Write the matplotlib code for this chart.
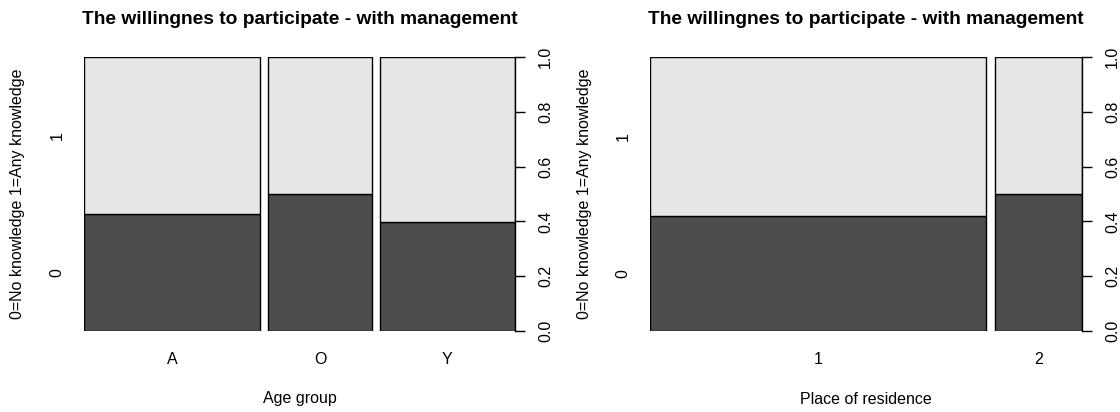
import matplotlib
matplotlib.use('Agg')
import matplotlib.pyplot as plt
import numpy as np
from matplotlib.transforms import blended_transform_factory

plt.rcParams['font.family'] = ['Liberation Sans', 'DejaVu Sans']

# Spineplot data: column width = share of group, dark part = share of "0"
TITLE = 'The willingnes to participate - with management'
YLABEL = '0=No knowledge 1=Any knowledge'
LEVELS = ['0', '1']

age_groups = ['A', 'O', 'Y']
age_share = [0.425, 0.249, 0.326]
age_no_knowledge = [0.427, 0.500, 0.399]

residence = ['1', '2']
residence_share = [0.794, 0.206]
residence_no_knowledge = [0.420, 0.500]

DARK = '#4d4d4d'
LIGHT = '#e6e6e6'
OFF = 0.02


def spineplot(ax, cats, share, frac0, xlabel):
    share = np.asarray(share)
    frac0 = np.asarray(frac0)
    lefts = np.concatenate([[0], np.cumsum(share)[:-1]]) + OFF * np.arange(len(share))
    ax.bar(lefts, frac0, width=share, align='edge', color=DARK,
           edgecolor='black', linewidth=1.0)
    ax.bar(lefts, 1 - frac0, bottom=frac0, width=share, align='edge',
           color=LIGHT, edgecolor='black', linewidth=1.0)
    ax.set_xlim(0, 1 + OFF * (len(share) - 1))
    ax.set_ylim(0, 1)
    for s in ['top', 'left', 'bottom']:
        ax.spines[s].set_visible(False)
    ax.spines['right'].set_linewidth(1.0)

    # right axis: proportions
    ax.yaxis.tick_right()
    ax.set_yticks(np.linspace(0, 1, 6))
    ax.set_yticklabels(['%.1f' % v for v in np.linspace(0, 1, 6)])
    ax.tick_params(axis='y', direction='out', length=7.5, width=1.0,
                   pad=9, labelsize=11.5, labelrotation=90)
    for lab in ax.get_yticklabels():
        lab.set_va('center')

    # bottom: category names at bar centres
    ax.set_xticks(lefts + share / 2)
    ax.set_xticklabels(cats)
    ax.tick_params(axis='x', length=0, pad=15, labelsize=11.5)

    # left: factor levels at middle of first bar segments
    tr = blended_transform_factory(ax.transAxes, ax.transData)
    w = ax.get_position().width * 1120
    ax.text(-27 / w, frac0[0] / 2, LEVELS[0], transform=tr, rotation=90,
            ha='center', va='center', fontsize=11.5)
    ax.text(-27 / w, (frac0[0] + 1) / 2, LEVELS[1], transform=tr, rotation=90,
            ha='center', va='center', fontsize=11.5)

    ax.text(-66 / w, 0.5, YLABEL, transform=ax.transAxes, rotation=90,
            ha='center', va='center', fontsize=11.5)
    ax.text(0.5, -68 / 274, xlabel, transform=ax.transAxes,
            ha='center', va='center', fontsize=11.5)
    ax.text(0.5, 1 + 37 / 274, TITLE, transform=ax.transAxes,
            ha='center', va='center', fontsize=13.8, fontweight='bold')


fig = plt.figure(figsize=(11.2, 4.12), dpi=100)
H = 412.0
ax1 = fig.add_axes([84 / 1120, (H - 331) / H, 431 / 1120, 274 / H])
ax2 = fig.add_axes([650 / 1120, (H - 331) / H, 432 / 1120, 274 / H])

spineplot(ax1, age_groups, age_share, age_no_knowledge, 'Age group')
spineplot(ax2, residence, residence_share, residence_no_knowledge,
          'Place of residence')

fig.savefig('out.png', dpi=100)
